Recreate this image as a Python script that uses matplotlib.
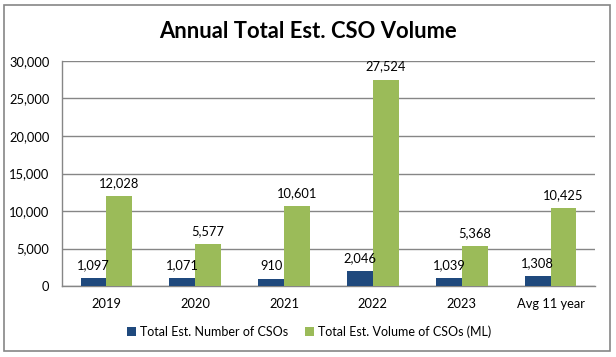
import matplotlib
matplotlib.use("Agg")
import matplotlib.pyplot as plt
from matplotlib.patches import Rectangle
from matplotlib.ticker import FuncFormatter
import numpy as np

categories = ["2019", "2020", "2021", "2022", "2023", "Avg 11 year"]
num_csos = [1097, 1071, 910, 2046, 1039, 1308]
vol_csos = [12028, 5577, 10601, 27524, 5368, 10425]
series_names = ["Total Est. Number of CSOs", "Total Est. Volume of CSOs (ML)"]
title = "Annual Total Est. CSO Volume"
yticks = [0, 5000, 10000, 15000, 20000, 25000, 30000]

plt.rcParams['font.family'] = ['Lato', 'DejaVu Sans']

fig = plt.figure(figsize=(6.16, 3.57), dpi=100)
ax = fig.add_axes([62/616, 1-286/357, (595-62)/616, (286-61)/357])

blue = "#1F497D"
green = "#9BBB59"
grid = "#868686"

x = np.arange(len(categories))
w = 0.29
b1 = ax.bar(x - w/2, num_csos, w, color=blue, label=series_names[0], zorder=3)
b2 = ax.bar(x + w/2, vol_csos, w, color=green, label=series_names[1], zorder=3)

for bars, vals in ((b1, num_csos), (b2, vol_csos)):
    for r, v in zip(bars, vals):
        ax.annotate(f"{v:,}", (r.get_x() + r.get_width()/2, r.get_height()),
                    xytext=(0, 5), textcoords="offset points",
                    ha="center", va="bottom", fontsize=9.3, color="#000000")

ax.set_xlim(-0.5, len(categories) - 0.5)
ax.set_ylim(0, 30000)
ax.set_yticks(yticks)
ax.yaxis.set_major_formatter(FuncFormatter(lambda v, p: f"{int(v):,}"))
ax.set_xticks(x)
ax.set_xticklabels(categories)
ax.tick_params(axis="both", length=0, labelsize=9.3, colors="#000000")
ax.tick_params(axis="y", pad=9)
ax.tick_params(axis="x", pad=9)
ax.yaxis.grid(True, color=grid, linewidth=1.0, zorder=0)
ax.set_axisbelow(True)
for s in ("top", "right"):
    ax.spines[s].set_visible(False)
for s in ("left", "bottom"):
    ax.spines[s].set_color(grid)
    ax.spines[s].set_linewidth(1.0)

fig.text(308/616, 1-32/357, title, ha="center", va="center",
         fontsize=15.8, fontweight="bold", color="#000000")

leg = fig.legend(handles=[b1, b2], loc="center", bbox_to_anchor=(309/616, 1-331.5/357),
                 ncol=2, frameon=False, fontsize=9, handlelength=0.7, handleheight=0.7,
                 handletextpad=0.3, columnspacing=1.4)

fig.patches.append(Rectangle((4/616, 1-351/357), (610-4)/616, (351-5)/357,
                             transform=fig.transFigure, fill=False,
                             edgecolor="#868686", linewidth=1.2))

fig.savefig("out.png", dpi=100)
